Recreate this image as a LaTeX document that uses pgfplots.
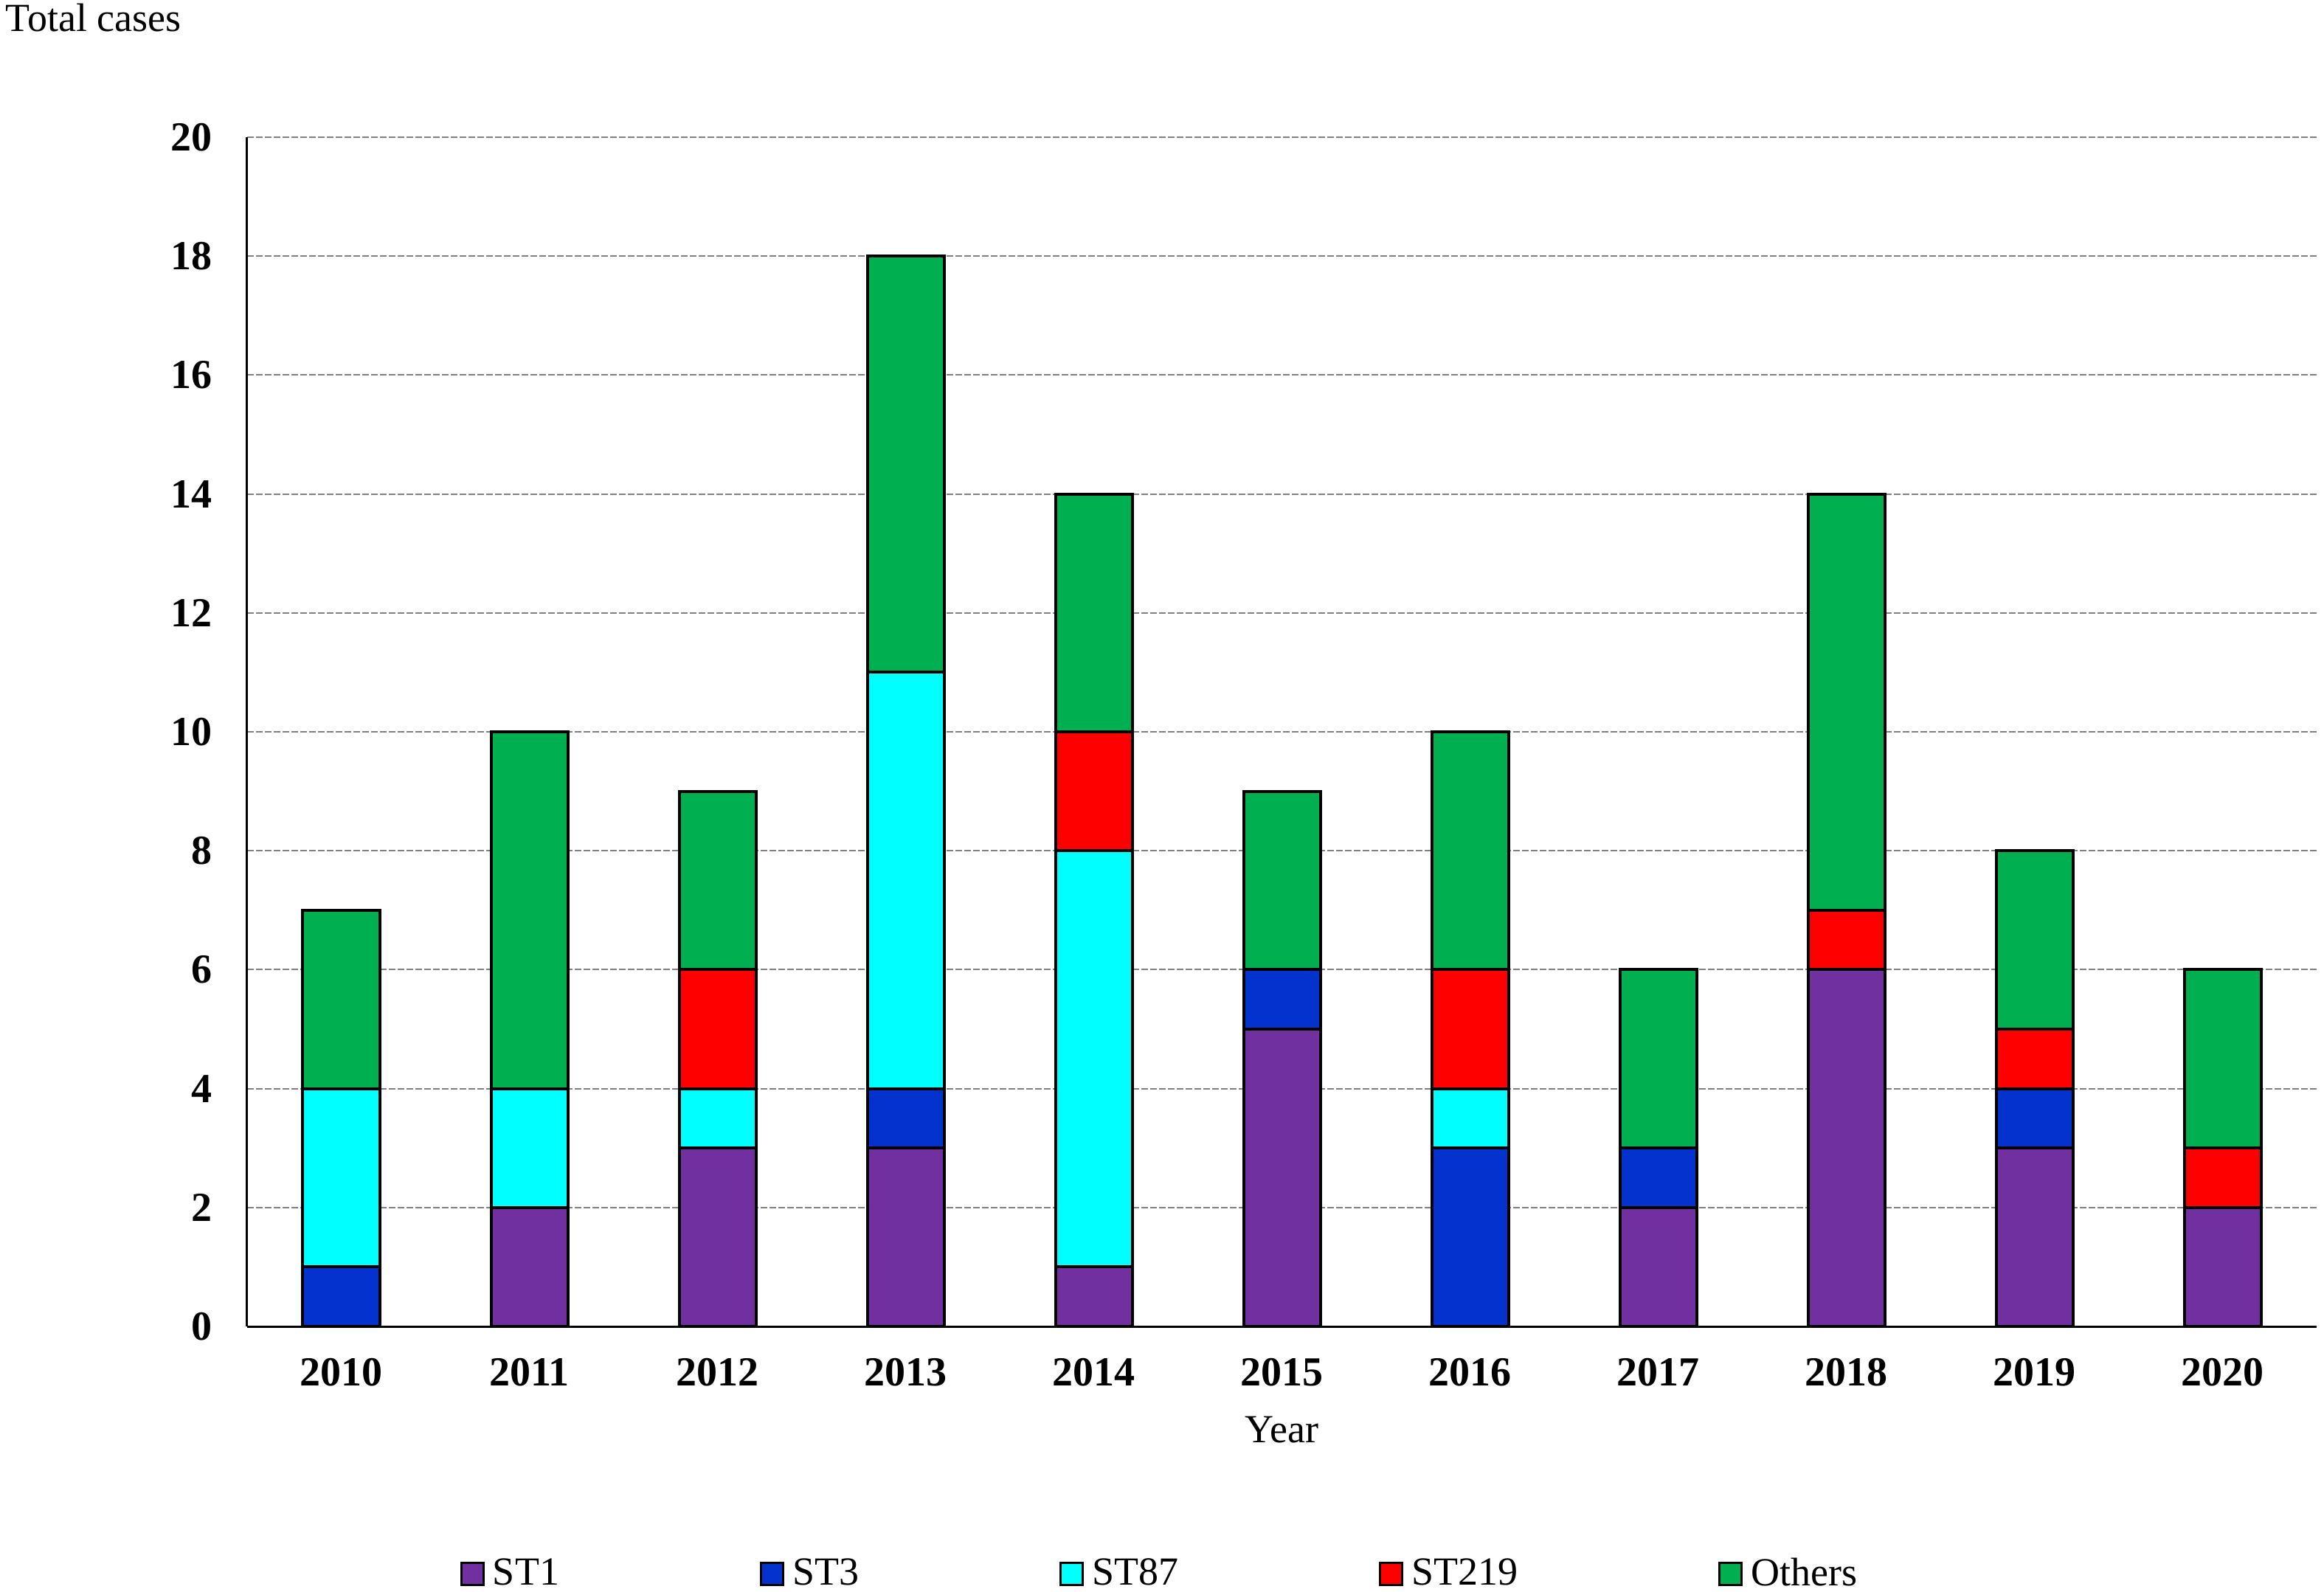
\documentclass[border=0pt]{standalone}
\usepackage{fontspec}
\setmainfont{Liberation Serif}
\usepackage{pgfplots}
\pgfplotsset{compat=1.18}
\definecolor{cST1}{HTML}{7030A0}
\definecolor{cST3}{HTML}{0432CC}
\definecolor{cST87}{HTML}{00FFFF}
\definecolor{cST219}{HTML}{FF0000}
\definecolor{cOth}{HTML}{00B050}
\pgfplotsset{sq legend/.style={legend image code/.code={\draw[##1,line width=0.75pt] (0pt,-3.75pt) rectangle (7.5pt,3.75pt);}}}
\begin{document}
\begin{tikzpicture}
\begin{axis}[name=ax, scale only axis, width=701.25pt, height=403pt,
  ybar stacked, bar width=26pt,
  xmin=-0.5, xmax=10.5, ymin=0, ymax=20,
  xtick={0,1,2,3,4,5,6,7,8,9,10},
  xticklabels={2010,2011,2012,2013,2014,2015,2016,2017,2018,2019,2020},
  ytick={0,2,4,6,8,10,12,14,16,18,20},
  axis x line*=bottom, axis y line*=left,
  axis line style={-, line width=0.75pt, black},
  major tick length=0pt,
  ymajorgrids, major grid style={gray, line width=0.5pt, dash pattern=on 2.2pt off 0.8pt},
  /pgf/number format/assume math mode=true,
  ticklabel style={font=\bfseries\fontsize{14}{16}\selectfont, inner sep=0pt},
  yticklabel style={xshift=-11.75pt},
  xticklabel style={yshift=-10.5pt},
  xlabel={Year},
  xlabel style={at={(axis description cs:0.5,0)}, anchor=base, yshift=-39.25pt, font=\fontsize{13.5}{16}\selectfont, inner sep=0pt},
  legend columns=5,
  legend style={draw=none, fill=none, inner sep=0pt, outer sep=0pt,
    at={(axis description cs:0.10303,-0.2081)}, anchor=west,
    font=\fontsize{13.5}{16}\selectfont, column sep=0pt,
    nodes={inner sep=0pt, outer sep=0pt},
    /tikz/every odd column/.append style={column sep=2.75pt},
    /tikz/every even column/.append style={column sep=68pt},
    cells={anchor=west}},
  every axis plot/.append style={draw=black, line width=1pt},
]
\addplot[fill=cST1, sq legend] coordinates {(0,0) (1,2) (2,3) (3,3) (4,1) (5,5) (6,0) (7,2) (8,6) (9,3) (10,2)};
\addplot[fill=cST3, sq legend] coordinates {(0,1) (1,0) (2,0) (3,1) (4,0) (5,1) (6,3) (7,1) (8,0) (9,1) (10,0)};
\addplot[fill=cST87, sq legend] coordinates {(0,3) (1,2) (2,1) (3,7) (4,7) (5,0) (6,1) (7,0) (8,0) (9,0) (10,0)};
\addplot[fill=cST219, sq legend] coordinates {(0,0) (1,0) (2,2) (3,0) (4,2) (5,0) (6,2) (7,0) (8,1) (9,1) (10,1)};
\addplot[fill=cOth, sq legend] coordinates {(0,3) (1,6) (2,3) (3,7) (4,4) (5,3) (6,4) (7,3) (8,7) (9,3) (10,3)};
\legend{ST1,ST3,ST87,ST219,Others}
\end{axis}
\node[anchor=base west, font=\fontsize{13.5}{16}\selectfont, inner sep=0pt] at ([shift={(-82pt,36pt)}]ax.north west) {Total cases};
\pgfresetboundingbox
\path[use as bounding box] ([shift={(-83.75pt,-89.75pt)}]ax.south west) rectangle ([shift={(2.5pt,46.5pt)}]ax.north east);
\end{tikzpicture}
\end{document}
